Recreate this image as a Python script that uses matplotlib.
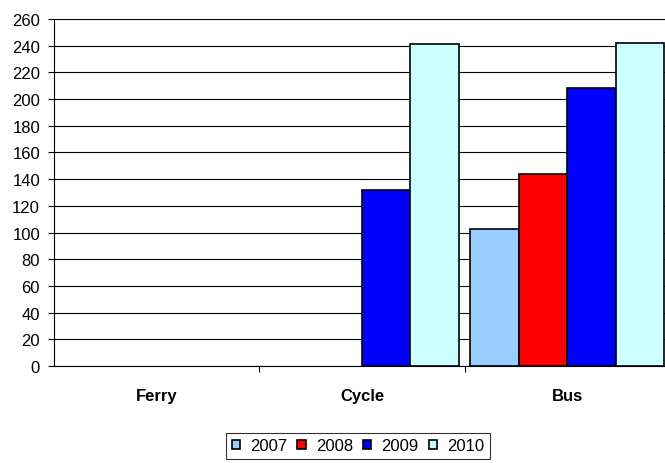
import numpy as np
import matplotlib.pyplot as plt

# data
categories = ["Ferry", "Cycle", "Bus"]
years = ["2007", "2008", "2009", "2010"]
v2007 = [0, 0, 103]
v2008 = [0, 0, 144]
v2009 = [0, 132, 208]
v2010 = [0, 241, 242]
series = [v2007, v2008, v2009, v2010]
colors = ["#99ccff", "#ff0000", "#0000ff", "#ccffff"]

plt.rcParams["font.family"] = ["Liberation Sans", "DejaVu Sans"]

fig = plt.figure(figsize=(6.65, 4.64), dpi=100)
W, H = 665, 464
# axes spans slightly past the right edge, like the cropped original
left, right, top, bottom = 54, 670, 20, 367
ax = fig.add_axes([left / W, 1 - bottom / H, (right - left) / W, (bottom - top) / H])

x = np.arange(len(categories))
bw = 0.236
offsets = (np.arange(len(years)) - 1.5) * bw
for vals, yr, col, off in zip(series, years, colors, offsets):
    # empty bars get no outline so they don't thicken the baseline
    lws = [1.2 if v > 0 else 0 for v in vals]
    ax.bar(x + off, vals, width=bw, color=col, edgecolor="black", linewidth=lws,
           label=yr, zorder=3)

ax.set_xlim(-0.5, len(categories) - 0.5)
ax.set_ylim(0, 260)
ax.set_yticks(np.arange(0, 261, 20))
ax.yaxis.grid(True, color="black", linewidth=0.8, zorder=0)
ax.set_axisbelow(True)

# category boundary ticks, labels centred on categories
ax.set_xticks(np.arange(0.5, len(categories) - 0.5, 1.0))
ax.set_xticklabels([])
ax.set_xticks(x, minor=True)
ax.set_xticklabels(categories, minor=True, fontweight="bold", fontsize=12)
ax.tick_params(axis="x", which="minor", length=0, pad=16)
ax.tick_params(axis="x", which="major", length=4, width=0.8, direction="out")
ax.tick_params(axis="y", length=4, width=0.8, direction="out", labelsize=12, pad=6)

for s in ["top", "right"]:
    ax.spines[s].set_visible(False)
ax.spines["left"].set_linewidth(0.8)
ax.spines["bottom"].set_linewidth(0.8)

leg = fig.legend(loc="center", bbox_to_anchor=(358 / W, 1 - 447 / H), ncol=4,
                 frameon=True, fancybox=False, edgecolor="black", fontsize=12,
                 handlelength=0.5, handleheight=0.5, handletextpad=0.6,
                 columnspacing=0.6, borderpad=0.35, borderaxespad=0)
leg.get_frame().set_linewidth(0.8)
for h in leg.legend_handles:
    h.set_linewidth(1.2)

fig.savefig("out.png", dpi=100)
